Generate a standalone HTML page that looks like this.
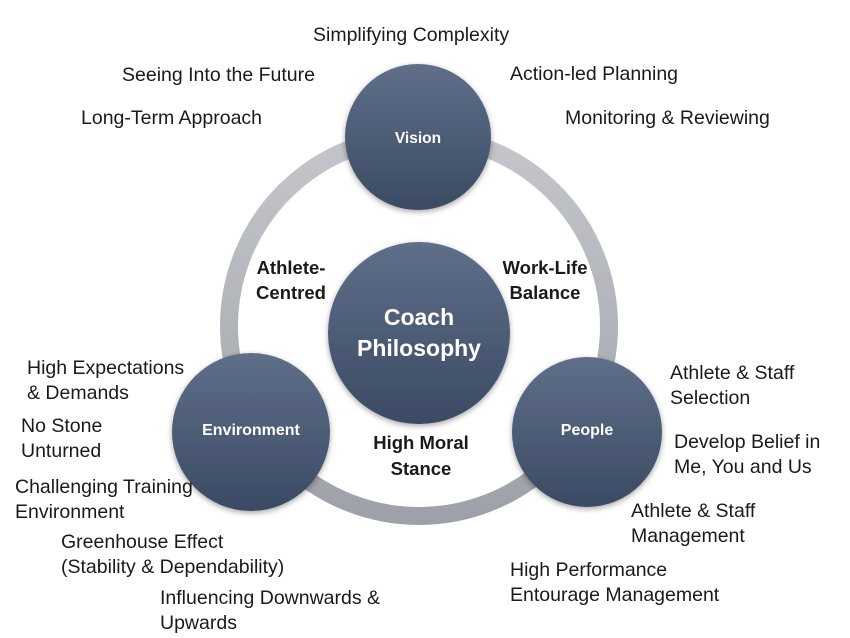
<!DOCTYPE html>
<html><head><meta charset="utf-8"><style>
body{margin:0;background:#fff;width:850px;height:638px;overflow:hidden;position:relative;font-family:"Liberation Sans",sans-serif;}
.t{position:absolute;font-size:19.5px;color:#1a1a1a;line-height:25px;white-space:nowrap;}
</style></head><body>
<svg width="850" height="638" style="position:absolute;left:0;top:0">
<defs>
<linearGradient id="g" x1="0" y1="0" x2="0" y2="1"><stop offset="0" stop-color="#5f6f89"/><stop offset="1" stop-color="#3b4a63"/></linearGradient>
<linearGradient id="r" x1="0" y1="0" x2="0" y2="1"><stop offset="0" stop-color="#c4c6ca"/><stop offset="1" stop-color="#9ea2a8"/></linearGradient>
<filter id="s" x="-20%" y="-20%" width="140%" height="140%"><feDropShadow dx="0" dy="2" stdDeviation="3" flood-color="#000" flood-opacity="0.35"/></filter>
</defs>
<circle cx="419" cy="326" r="190" fill="none" stroke="url(#r)" stroke-width="18"/>
<g filter="url(#s)" fill="url(#g)">
<circle cx="418" cy="137" r="73"/>
<circle cx="419" cy="333" r="91"/>
<circle cx="251" cy="432" r="79"/>
<circle cx="587" cy="432" r="75"/>
</g>
<g fill="#fff" font-family="Liberation Sans" font-weight="bold" text-anchor="middle">
<text x="418" y="143" font-size="15.5">Vision</text>
<text x="251" y="435" font-size="16">Environment</text>
<text x="587" y="435" font-size="16">People</text>
<text x="419" y="325" font-size="23">Coach</text>
<text x="419" y="356" font-size="23">Philosophy</text>
</g>
<g fill="#1a1a1a" font-family="Liberation Sans" font-weight="bold" font-size="18.5" text-anchor="middle">
<text x="291" y="274">Athlete-</text>
<text x="291" y="299">Centred</text>
<text x="545" y="274">Work-Life</text>
<text x="545" y="299">Balance</text>
<text x="421" y="449">High Moral</text>
<text x="421" y="475">Stance</text>
</g>
</svg>
<div class="t" style="left:313px;top:23px">Simplifying Complexity</div>
<div class="t" style="left:122px;top:63px">Seeing Into the Future</div>
<div class="t" style="left:510px;top:62px">Action-led Planning</div>
<div class="t" style="left:81px;top:106px">Long-Term Approach</div>
<div class="t" style="left:565px;top:106px">Monitoring &amp; Reviewing</div>
<div class="t" style="left:27px;top:356px">High Expectations<br>&amp; Demands</div>
<div class="t" style="left:21px;top:414px">No Stone<br>Unturned</div>
<div class="t" style="left:15px;top:475px">Challenging Training<br>Environment</div>
<div class="t" style="left:61px;top:530px">Greenhouse Effect<br>(Stability &amp; Dependability)</div>
<div class="t" style="left:160px;top:586px">Influencing Downwards &amp;<br>Upwards</div>
<div class="t" style="left:670px;top:361px">Athlete &amp; Staff<br>Selection</div>
<div class="t" style="left:674px;top:430px">Develop Belief in<br>Me, You and Us</div>
<div class="t" style="left:631px;top:499px">Athlete &amp; Staff<br>Management</div>
<div class="t" style="left:510px;top:558px">High Performance<br>Entourage Management</div>
</body></html>
